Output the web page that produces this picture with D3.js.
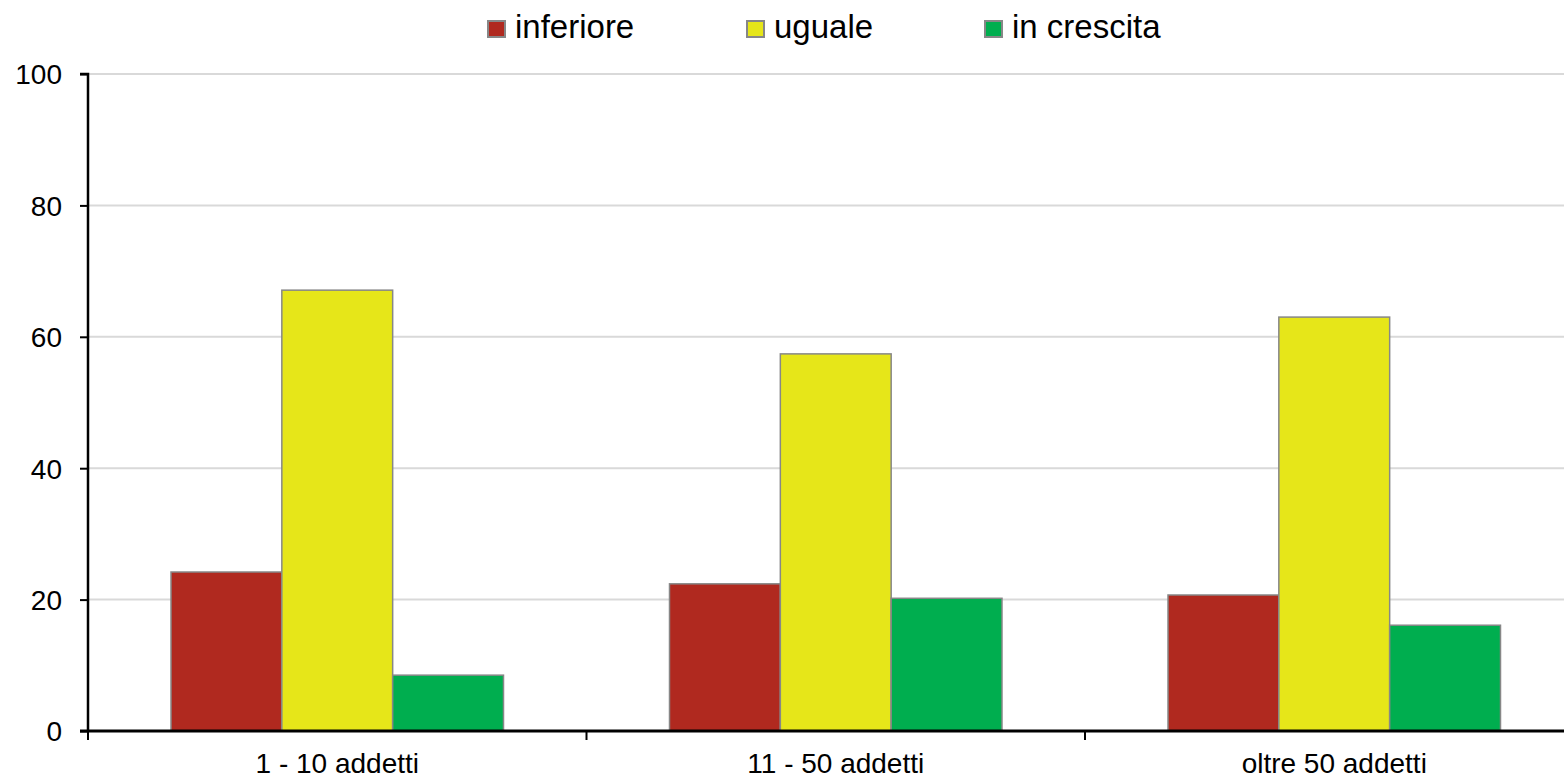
<!DOCTYPE html>
<html>
<head>
<meta charset="utf-8">
<script src="https://cdn.jsdelivr.net/npm/d3@7"></script>
<style>
  body { margin: 0; background: #fff; }
  svg { display: block; font-family: "Liberation Sans", Arial, sans-serif; }
</style>
</head>
<body>
<svg id="chart" width="1564" height="779"></svg>
<script>
const categories = ['1 - 10 addetti', '11 - 50 addetti', 'oltre 50 addetti']
const seriesNames = ['inferiore', 'uguale', 'in crescita']
const inferiore = [24.2, 22.4, 20.7]
const uguale = [67.1, 57.4, 63.0]
const inCrescita = [8.5, 20.2, 16.1]
const yTicks = [0, 20, 40, 60, 80, 100]

const colors = ['#b0291f', '#e6e619', '#00ae4f']
const values = [inferiore, uguale, inCrescita]

const svg = d3.select('#chart')
const plotLeft = 88, plotRight = 1583.5, plotTop = 74, plotBottom = 731
const font = '"Liberation Sans", Arial, sans-serif'

const x0 = d3.scaleBand().domain(categories).range([plotLeft, plotRight]).padding(0)
const x1 = d3.scaleBand().domain(seriesNames)
  .range([x0.bandwidth() * 0.1665, x0.bandwidth() * 0.8335]).padding(0)
const y = d3.scaleLinear().domain([0, 100]).range([plotBottom, plotTop])

// gridlines
svg.append('g').selectAll('line').data(yTicks.filter(d => d > 0)).enter().append('line')
  .attr('x1', plotLeft).attr('x2', 1564)
  .attr('y1', d => y(d)).attr('y2', d => y(d))
  .style('stroke', '#d9d9d9').style('stroke-width', 2)

// bars
const groups = svg.append('g').selectAll('g').data(categories).enter().append('g')
  .attr('transform', d => `translate(${x0(d)},0)`)

groups.selectAll('rect')
  .data((c, i) => seriesNames.map((s, j) => ({s, v: values[j][i], color: colors[j]})))
  .enter().append('rect')
  .attr('x', d => x1(d.s))
  .attr('y', d => y(d.v))
  .attr('width', x1.bandwidth())
  .attr('height', d => y(0) - y(d.v))
  .style('fill', d => d.color)
  .style('stroke', '#878787')
  .style('stroke-width', 1.5)

// y axis
const yAxis = d3.axisLeft(y).tickValues(yTicks).tickSize(8).tickPadding(18)
const gy = svg.append('g').attr('transform', `translate(${plotLeft},0)`).call(yAxis)
gy.select('.domain').attr('d', `M-8,${plotTop}H0V${plotBottom}`).style('stroke', '#000').style('stroke-width', 2.5)
gy.selectAll('.tick line').style('stroke', '#000').style('stroke-width', 2)
gy.selectAll('.tick text').style('font-size', '28px').style('fill', '#000').attr('dy', '0.35em')
  .style('font-family', font)

// x axis
const xAxis = d3.axisBottom(x0).tickSize(0).tickPadding(22)
const gx = svg.append('g').attr('transform', `translate(0,${plotBottom})`).call(xAxis)
gx.select('.domain').remove()
gx.append('line').attr('x1', plotLeft - 8).attr('x2', 1564).attr('y1', 0).attr('y2', 0)
  .style('stroke', '#000').style('stroke-width', 3)
gx.selectAll('.tickmark').data(categories).enter().append('line')
  .attr('x1', d => x0(d)).attr('x2', d => x0(d)).attr('y1', 0).attr('y2', 9)
  .style('stroke', '#000').style('stroke-width', 2)
gx.selectAll('.tick text').style('font-size', '28px').style('fill', '#000')
  .style('font-family', font)

// legend
const legendX = [488, 747, 985]
const legend = svg.append('g').selectAll('g').data(seriesNames).enter().append('g')
  .attr('transform', (d, i) => `translate(${legendX[i]},21)`)
legend.append('rect').attr('width', 17).attr('height', 16)
  .style('fill', (d, i) => colors[i]).style('stroke', '#878787').style('stroke-width', 2)
legend.append('text').attr('x', 27).attr('y', 17)
  .style('font-size', '33px').style('fill', '#000').style('font-family', font).text(d => d)
</script>
</body>
</html>
